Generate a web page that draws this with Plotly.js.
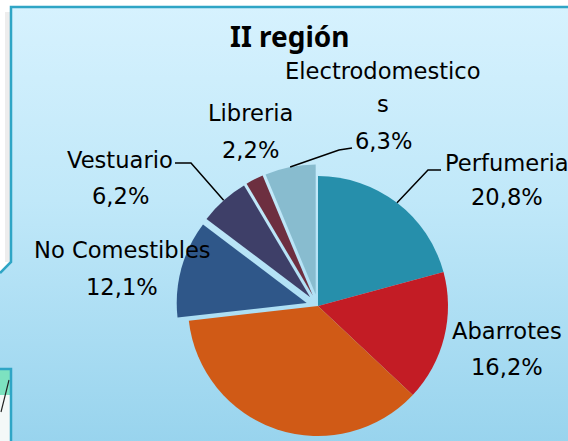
<!DOCTYPE html>
<html><head><meta charset="utf-8">
<script src="https://cdn.plot.ly/plotly-3.0.1.min.js"></script>
<style>
html,body{margin:0;padding:0;overflow:hidden;background:#fff;}
#chart{width:568px;height:450px;background:linear-gradient(to bottom,#d7f2fe 0px,#c0e8f9 200px,#97d3ed 450px);}
</style></head><body><div id="chart"></div>
<script>
// ---- data ----
const categories = ["Perfumeria","Abarrotes","Otros","No Comestibles","Vestuario","Libreria","Electrodomesticos"];
const values = [20.8, 16.2, 36.2, 12.1, 6.2, 2.2, 6.3];
const titleText = "II región";

// ---- styling / placement ----
const colors = ["#268fab","#c31c25","#d05a16","#2f5789","#3e3f68","#6d2f40","#88bccf"];
const pulls = [0, 0, 0, 0.09, 0.09, 0.09, 0.09];
const W = 568, H = 450;
const CX = 318, CY = 306, R = 130;
const maxPull = Math.max(...pulls);
const half = R * (1 + maxPull);
const px = x => x / W;
const py = y => 1 - y / H;

// label placement: category index -> lines and positions (pixels)
const labelPlaces = [
  {i:0, lines:["Perfumeria"], x:443, anchor:"left", y0:163, pctX:507, pctY:197, leader:[[428,170],[441,170]]},
  {i:1, lines:["Abarrotes"], x:507, anchor:"center", y0:331, pctX:507, pctY:367},
  {i:3, lines:["No Comestibles"], x:122, anchor:"center", y0:250, pctX:122, pctY:287},
  {i:4, lines:["Vestuario"], x:120, anchor:"center", y0:160, pctX:120, pctY:196, leader:[[191,163],[175,163]]},
  {i:5, lines:["Libreria"], x:250, anchor:"center", y0:113, pctX:250, pctY:150},
  {i:6, lines:["Electrodomestico","s"], x:383, anchor:"center", y0:71, lineGap:33, pctX:383, pctY:141, leader:[[339,150],[352,148]]}
];

const total = values.reduce((a,b)=>a+b,0);
const fmt = v => (v/total*100).toFixed(1).replace('.',',') + '%';
const font = {family:"DejaVu Sans", size:22.6, color:"#000"};

// mid angle arc points (computed from data)
function arcPoint(i){
  let before = 0;
  for (let k=0;k<i;k++) before += values[k];
  const mid = (before + values[i]/2) / total * 2 * Math.PI;
  const dx = Math.sin(mid), dy = -Math.cos(mid);
  const d = R * (1 + pulls[i]);
  return [CX + dx*d, CY + dy*d];
}

const annotations = [];
const shapes = [];

// frame decorations
shapes.push({type:"rect", xref:"paper", yref:"paper", x0:0, x1:px(W), y0:py(0), y1:py(7), fillcolor:"#ffffff", line:{width:0}, layer:"below"});
shapes.push({type:"path", xref:"paper", yref:"paper", path:`M ${px(0)},${py(0)} L ${px(11)},${py(0)} L ${px(11)},${py(262)} L ${px(0)},${py(273)} Z`, fillcolor:"#ffffff", line:{width:0}, layer:"below"});
shapes.push({type:"rect", xref:"paper", yref:"paper", x0:px(5), x1:px(10.5), y0:py(12), y1:py(262), fillcolor:"rgba(0,0,0,0.07)", line:{width:0}, layer:"below"});
shapes.push({type:"path", xref:"paper", yref:"paper", path:`M ${px(0)},${py(273)} L ${px(11)},${py(262)} L ${px(11)},${py(7)} L ${px(W)},${py(7)}`, line:{color:"#2fa5c5", width:2.5}, layer:"below"});
shapes.push({type:"rect", xref:"paper", yref:"paper", x0:0, x1:px(11), y0:py(369), y1:py(H), fillcolor:"#f4f8f8", line:{width:0}, layer:"below"});
shapes.push({type:"rect", xref:"paper", yref:"paper", x0:0, x1:px(11), y0:py(370), y1:py(395), fillcolor:"#7de2c0", line:{width:0}, layer:"below"});
shapes.push({type:"path", xref:"paper", yref:"paper", path:`M ${px(9)},${py(380)} L ${px(1)},${py(412)}`, line:{color:"#222", width:1.2}, layer:"below"});
shapes.push({type:"path", xref:"paper", yref:"paper", path:`M ${px(0)},${py(369)} L ${px(11)},${py(369)} L ${px(11)},${py(H)}`, line:{color:"#2fa5c5", width:2.5}, layer:"below"});

labelPlaces.forEach(p => {
  const gap = p.lineGap || 36;
  p.lines.forEach((ln, k) => {
    annotations.push({xref:"paper", yref:"paper", x:px(p.x), y:py(p.y0 + k*gap), text:ln, showarrow:false, xanchor:p.anchor, yanchor:"middle", font:font});
  });
  annotations.push({xref:"paper", yref:"paper", x:px(p.pctX), y:py(p.pctY), text:fmt(values[p.i]), showarrow:false, xanchor:"center", yanchor:"middle", font:font});
  if (p.leader){
    const s = arcPoint(p.i);
    const pts = [s].concat(p.leader);
    const path = pts.map((q,j)=>(j? 'L ':'M ') + px(q[0]) + ',' + py(q[1])).join(' ');
    shapes.push({type:"path", xref:"paper", yref:"paper", path:path, line:{color:"#000", width:1.5}, layer:"above"});
  }
});

annotations.push({xref:"paper", yref:"paper", x:px(290), y:py(36), text:"<b>"+titleText+"</b>", showarrow:false, xanchor:"center", yanchor:"middle", font:{family:"Noto Sans", size:28, color:"#000"}});

const trace = {
  type:"pie",
  labels:categories,
  values:values,
  sort:false,
  direction:"clockwise",
  rotation:0,
  pull:pulls,
  marker:{colors:colors, line:{width:0}},
  textinfo:"none",
  hoverinfo:"label+percent",
  showlegend:false,
  domain:{x:[px(CX-half), px(CX+half)], y:[py(CY+half), py(CY-half)]}
};

Plotly.newPlot("chart", [trace], {
  width:W, height:H,
  margin:{l:0,r:0,t:0,b:0},
  paper_bgcolor:"rgba(0,0,0,0)",
  plot_bgcolor:"rgba(0,0,0,0)",
  showlegend:false,
  annotations:annotations,
  shapes:shapes
}, {displayModeBar:false, staticPlot:true});
</script></body></html>
